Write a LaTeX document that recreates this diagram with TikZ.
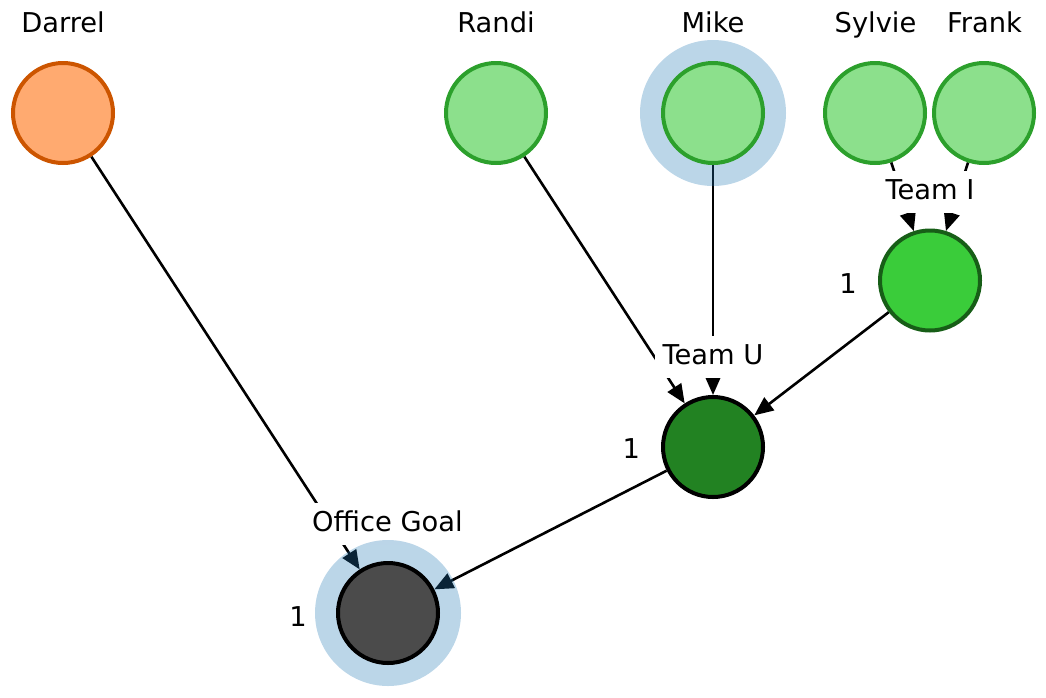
\documentclass[tikz,border=0pt]{standalone}
\usepackage{fontspec}
\setmainfont{DejaVu Sans}
\usetikzlibrary{arrows.meta}
\pgfdeclarelayer{edgelayer}
\pgfdeclarelayer{labellayer}
\pgfdeclarelayer{halolayer}
\pgfsetlayers{edgelayer,labellayer,halolayer,main}
\definecolor{orangefill}{HTML}{FFAA70}
\definecolor{orangeedge}{HTML}{CC5500}
\definecolor{personfill}{HTML}{8CE08C}
\definecolor{personedge}{HTML}{2CA02C}
\definecolor{teamifill}{HTML}{3ACC3A}
\definecolor{teamiedge}{HTML}{175E17}
\definecolor{teamufill}{HTML}{228222}
\definecolor{goalfill}{HTML}{4B4B4B}
\definecolor{haloblue}{HTML}{1F77B4}
\tikzset{
  txt/.style={font=\fontsize{27.3pt}{32pt}\selectfont, inner sep=0pt},
  vertex/.style={circle, minimum size=100pt, inner sep=0pt, line width=4pt, draw},
  person/.style={vertex, fill=personfill, draw=personedge},
  halo/.style={circle, minimum size=146pt, inner sep=0pt, fill=haloblue, fill opacity=0.3},
  link/.style={line width=2.6pt, black, -{Triangle[length=19pt,width=16pt]}},
  grouplabel/.style={txt, anchor=base, fill=white, text height=20.5pt, text depth=5.6pt, inner xsep=8.1pt, inner ysep=8.1pt},
  namelabel/.style={txt, anchor=base},
}
\begin{document}
\begin{tikzpicture}[x=1pt,y=-1pt]
\useasboundingbox (0,0) rectangle (1046,697);
% nodes
\node[vertex, fill=orangefill, draw=orangeedge] (darrel) at (63,113) {};
\node[person] (randi) at (496,113) {};
\node[person] (mike) at (713,113) {};
\node[person] (sylvie) at (875,113) {};
\node[person] (frank) at (984,113) {};
\node[vertex, fill=teamifill, draw=teamiedge] (teami) at (930,280.5) {};
\node[vertex, fill=teamufill, draw=black] (teamu) at (713,447) {};
\node[vertex, fill=goalfill, draw=black] (office) at (388,613) {};
% names
\node[namelabel] (ndarrel) at (63,32.7) {Darrel};
\node[namelabel] (nrandi) at (496,32.7) {Randi};
\node[namelabel] (nmike) at (713,32.7) {Mike};
\node[namelabel] (nsylvie) at (875.5,32.7) {Sylvie};
\node[namelabel] (nfrank) at (984.5,32.7) {Frank};
% weights
\node[txt] (wgoal) at (298,616.3) {1};
\node[txt] (wteamu) at (631.3,449) {1};
\node[txt] (wteami) at (848,283.7) {1};
% edges
\begin{pgfonlayer}{edgelayer}
\draw[link] (darrel) -- (office);
\draw[link] (teamu) -- (office);
\draw[link] (randi) -- (teamu);
\draw[link] (mike) -- (teamu);
\draw[link] (teami) -- (teamu);
\draw[link] (sylvie) -- (teami);
\draw[link] (frank) -- (teami);
\end{pgfonlayer}
% group labels
\begin{pgfonlayer}{labellayer}
\node[grouplabel] (lgoal) at (387.5,531.7) {Office Goal};
\node[grouplabel] (lteamu) at (713,364.3) {Team U};
\node[grouplabel] (lteami) at (930,199.3) {Team I};
\end{pgfonlayer}
% halos
\begin{pgfonlayer}{halolayer}
\node[halo] (hmike) at (mike) {};
\node[halo] (hgoal) at (office) {};
\end{pgfonlayer}
\end{tikzpicture}
\end{document}
